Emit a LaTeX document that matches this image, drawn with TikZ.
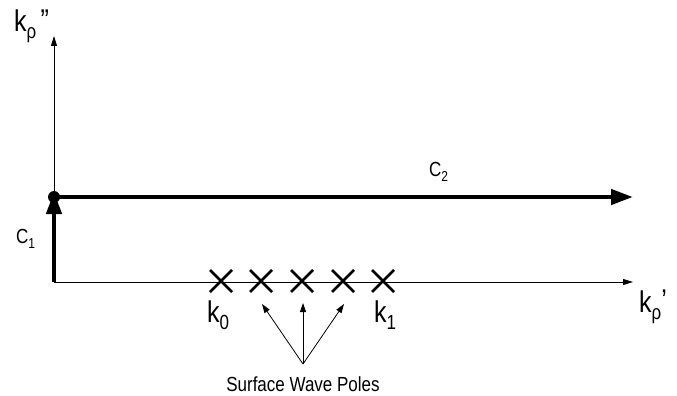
\documentclass[tikz,border=0pt]{standalone}
\usepackage{fontspec}
\setmainfont{Liberation Sans}
\usetikzlibrary{arrows.meta}
\newcommand{\tall}[1]{\scalebox{1}[1.2]{#1}}
\newcommand{\klabel}[2]{\tall{k}\raisebox{-7pt}{\fontsize{17}{18}\selectfont\tall{#1}}#2}
\newcommand{\clabel}[1]{\tall{C}\raisebox{-5pt}{\fontsize{12}{13}\selectfont\tall{#1}}}
\begin{document}
\begin{tikzpicture}[x=1pt,y=-1pt,
  axis/.style={line width=0.8pt,-{Triangle[length=10pt,width=6pt]}},
  thick path/.style={line width=4.5pt,-{Triangle[length=22pt,width=15pt]}},
  pole/.style={line width=2.6pt},
  lbl/.style={font=\fontsize{25}{27}\selectfont, inner sep=0pt, anchor=base west},
  small/.style={font=\fontsize{17}{20}\selectfont, inner sep=0pt, anchor=base west},
  ptr/.style={line width=0.8pt,-{Triangle[length=9pt,width=6pt]}}]
\useasboundingbox (0,0) rectangle (677,396);
\coordinate (O) at (54,282);
\coordinate (Ytop) at (54,36);
\coordinate (Xend) at (633,282);
\coordinate (P) at (54,197);
\coordinate (C2end) at (633,197);
\draw[axis] (O) -- (Ytop);
\draw[axis] (O) -- (Xend);
\draw[thick path] (O) -- ([yshift=5pt]P);
\draw[thick path] (P) -- (C2end);
\fill (P) circle (6pt);
\node[small] (c1) at (16,243) {\clabel{1}};
\node[small] (c2) at (429,176) {\clabel{2}};
\foreach \n/\x in {a/221,b/261,c/302,d/343,e/383}{
  \coordinate (\n) at (\x,281);
  \draw[pole] ([shift={(-11,-11)}]\n) -- ([shift={(11,11)}]\n)
              ([shift={(-11,11)}]\n) -- ([shift={(11,-11)}]\n);
}
\node[lbl] (k0) at (207,322) {\klabel{0}{}};
\node[lbl] (k1) at (374,322) {\klabel{1}{}};
\node[lbl] (kx) at (639,312) {\klabel{ρ}{\raisebox{2pt}{\tall{’}}}};
\node[lbl] (ky) at (14,32) {\klabel{ρ}{\,\raisebox{1pt}{\tall{"}}}};
\node[font=\fontsize{17}{19}\selectfont, inner sep=0pt, anchor=base] (swp) at (303,391) {\tall{Surface Wave Poles}};
\coordinate (src) at (303,364);
\draw[ptr] (src) -- (262,304);
\draw[ptr] (src) -- (303,303);
\draw[ptr] (src) -- (344,304);
\end{tikzpicture}
\end{document}
